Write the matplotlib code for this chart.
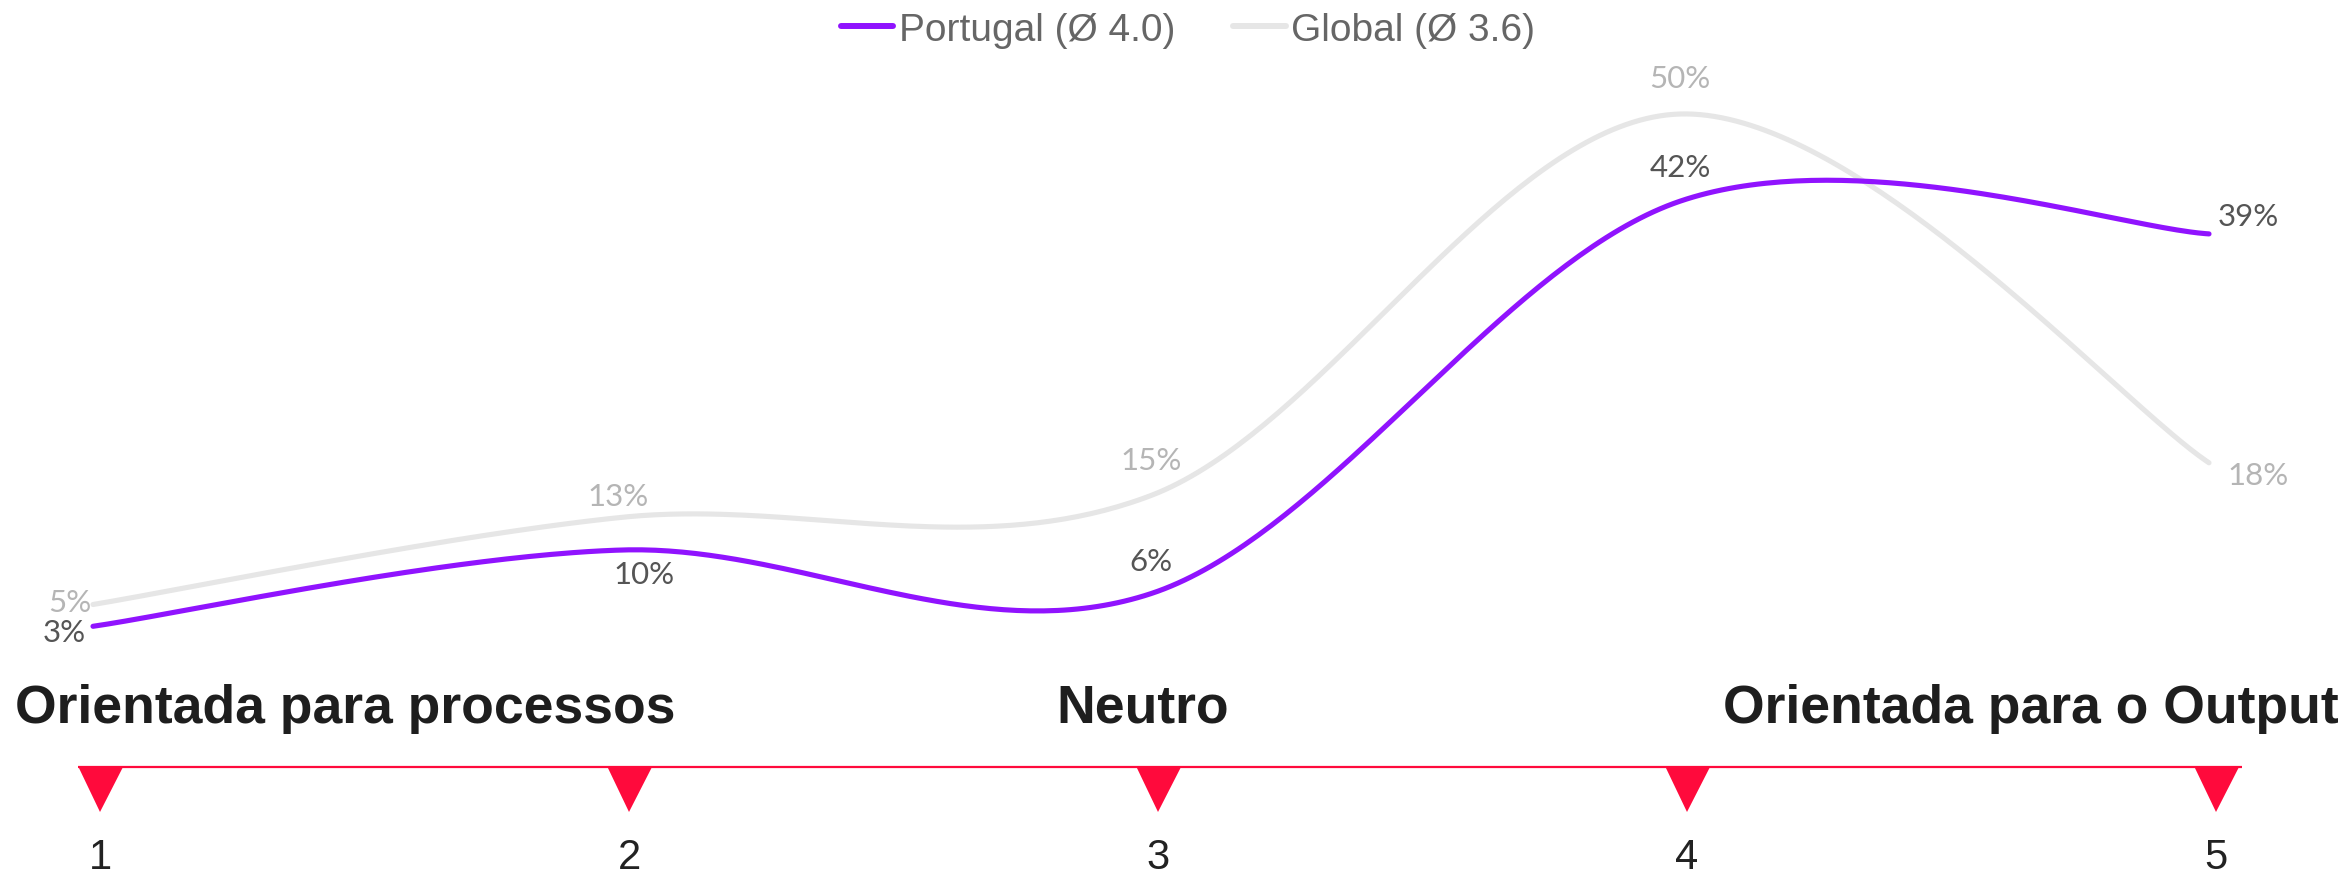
import numpy as np
import matplotlib
matplotlib.use("Agg")
import matplotlib.pyplot as plt
from matplotlib.lines import Line2D

# ---------------- data ----------------
scale_points = [1, 2, 3, 4, 5]
portugal = [3, 10, 6, 42, 39]
global_vals = [5, 13, 15, 50, 18]
series_names = ["Portugal (Ø 4.0)", "Global (Ø 3.6)"]
scale_titles = ["Orientada para processos", "Neutro", "Orientada para o Output"]
scale_labels = ["1", "2", "3", "4", "5"]

# ---------------- styles ----------------
PURPLE = "#9013FE"
LIGHT = "#E6E6E6"
RED = "#FF0A3C"
LBL_DARK = "#555555"
LBL_LIGHT = "#B5B5B5"

W, H = 2348, 878
DPI = 100
fig = plt.figure(figsize=(W / DPI, H / DPI), dpi=DPI)
fig.patch.set_facecolor("white")


def catmull_rom(xs, ys, n=80):
    P = np.column_stack([xs, ys]).astype(float)
    pad = np.vstack([P[0], P, P[-1]])
    t = np.linspace(0, 1, n)[:, None]
    h00 = 2 * t**3 - 3 * t**2 + 1
    h10 = t**3 - 2 * t**2 + t
    h01 = -2 * t**3 + 3 * t**2
    h11 = t**3 - t**2
    segs = []
    for i in range(len(P) - 1):
        p0, p1, p2, p3 = pad[i], pad[i + 1], pad[i + 2], pad[i + 3]
        m1 = (p2 - p0) / 2
        m2 = (p3 - p1) / 2
        seg = h00 * p1 + h10 * m1 + h01 * p2 + h11 * m2
        segs.append(seg if i == 0 else seg[1:])
    out = np.vstack(segs)
    return out[:, 0], out[:, 1]


# ---------- curve axes ----------
ax = fig.add_axes([0, 0, 1, 1])
px_x = 4 / (2209 - 93)
ax.set_xlim(1 - 93 * px_x, 5 + (W - 2209) * px_x)
px_y = 10.9
ax.set_ylim(-218 / px_y, (H - 218) / px_y)
ax.axis("off")

lw = 3.7
gx, gy = catmull_rom(scale_points, global_vals)
ax.plot(gx, gy, color=LIGHT, lw=lw, solid_capstyle="round", zorder=2)
px_, py_ = catmull_rom(scale_points, portugal)
ax.plot(px_, py_, color=PURPLE, lw=lw, solid_capstyle="round", zorder=3)

label_font = dict(family=["Lato", "DejaVu Sans"], fontsize=22.5)
# (dx, dy, ha) offsets in pixels
por_off = [(-7, -6, "right"), (22, -24, "center"), (0, 33, "center"),
           (0, 34, "center"), (9, 18, "left")]
glo_off = [(-2, 3, "right"), (-4, 21, "center"), (0, 36, "center"),
           (0, 36, "center"), (18, -12, "left")]

for x, v, (dx, dy, ha) in zip(scale_points, global_vals, glo_off):
    ax.annotate(f"{v}%", (x, v), xytext=(dx, dy), textcoords="offset pixels",
                ha=ha, va="center", color=LBL_LIGHT, zorder=4, **label_font)
for x, v, (dx, dy, ha) in zip(scale_points, portugal, por_off):
    ax.annotate(f"{v}%", (x, v), xytext=(dx, dy), textcoords="offset pixels",
                ha=ha, va="center", color=LBL_DARK, zorder=5, **label_font)

# legend
handles = [Line2D([0], [0], color=PURPLE, lw=4.3, solid_capstyle="round"),
           Line2D([0], [0], color=LIGHT, lw=4.3, solid_capstyle="round")]
leg = fig.legend(handles, series_names, loc="center", ncol=2,
                 bbox_to_anchor=(1188 / W, 1 - 31 / H), frameon=False,
                 prop={"family": "Liberation Sans", "size": 28},
                 handlelength=1.35, handletextpad=0.14, columnspacing=1.49,
                 labelcolor="#666666")

# ---------- scale axes ----------
ax2 = fig.add_axes([0, 0, 1, 1])
ax2.patch.set_alpha(0)
sx = 4 / (2216 - 100)
ax2.set_xlim(1 - 100 * sx, 5 + (W - 2216) * sx)
ax2.set_ylim(H, 0)
ax2.axis("off")

pad = 22 * sx
ax2.hlines(768, scale_points[0] - pad, scale_points[-1] + pad + 4 * sx,
           color=RED, lw=1.6, zorder=2)
ax2.plot(scale_points, [790.5] * len(scale_points), ls="none", marker="v",
         ms=32.4, color=RED, markeredgewidth=0, zorder=3)
for x, s in zip(scale_points, scale_labels):
    ax2.text(x, 869, s, ha="center", va="baseline", fontsize=30,
             family="Liberation Sans", color="#222222")

title_font = dict(family="Liberation Sans", fontsize=38.5, fontweight="bold",
                  color="#1E1E1E", va="baseline")
fig.text(15 / W, 1 - 723 / H, scale_titles[0], ha="left", **title_font)
fig.text(1143 / W, 1 - 723 / H, scale_titles[1], ha="center", **title_font)
fig.text(2339 / W, 1 - 723 / H, scale_titles[2], ha="right", **title_font)

fig.savefig("out.png", dpi=DPI, facecolor="white")
